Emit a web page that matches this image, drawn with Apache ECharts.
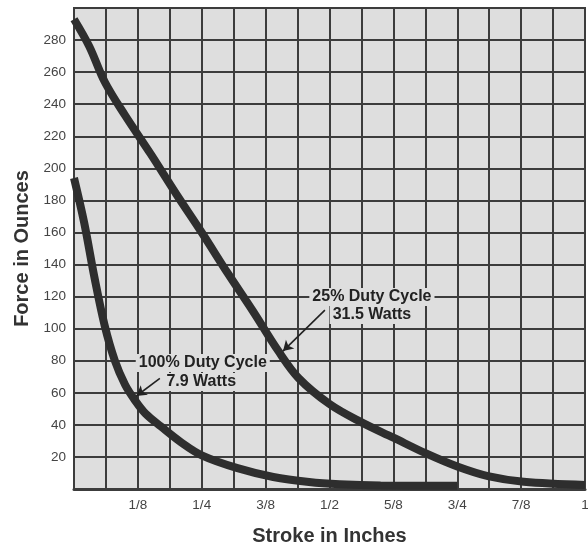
<!DOCTYPE html>
<html><head><meta charset="utf-8">
<script src="https://cdn.jsdelivr.net/npm/echarts@6/dist/echarts.min.js"></script>
<style>html,body{margin:0;padding:0;background:#fff}#c{width:588px;height:546px}</style>
</head><body><div id="c"></div>
<script>
// Stroke (inches) vs force (ounces)
const xTickLabels = ['1/8', '1/4', '3/8', '1/2', '5/8', '3/4', '7/8', '1'];
const dutyName25 = '25% Duty Cycle';
const watts25 = '31.5 Watts';
const dutyName100 = '100% Duty Cycle';
const watts100 = '7.9 Watts';

const stroke25 = [0, 0.03, 0.06, 0.1, 0.15, 0.2, 0.25, 0.3, 0.35, 0.4, 0.44, 0.5, 0.56, 0.625, 0.69, 0.75, 0.81, 0.88, 1.0];
const force25  = [293, 276, 254, 233, 209, 184, 160, 135, 111, 86, 69, 53, 42, 32, 22, 14, 8, 4.5, 2.5];

const stroke100 = [0, 0.02, 0.04, 0.06, 0.08, 0.1, 0.12, 0.14, 0.17, 0.21, 0.25, 0.32, 0.39, 0.46, 0.52, 0.6, 0.75];
const force100  = [194, 166, 132, 102, 80, 65, 55, 47, 39, 29, 21, 13, 7.5, 4.4, 3, 2.2, 2];

// annotation anchors (data coords)
const labelPos = [
  { text: dutyName100, at: [0.252, 78.6] },
  { text: watts100, at: [0.249, 66.7] },
  { text: dutyName25, at: [0.583, 119.7] },
  { text: watts25, at: [0.583, 108.5] }
];
const arrows = [
  [[0.168, 69], [0.122, 58]],
  [[0.491, 111.6], [0.409, 86]]
];

const zip = (xs, ys) => xs.map((x, i) => [x, ys[i]]);
const plotBg = '#dedede';
const gridCol = '#3c3c3c';
const curveCol = '#2e2e2e';
const font = 'Liberation Sans, Arial, Helvetica, sans-serif';

const chart = echarts.init(document.getElementById('c'));
chart.setOption({
  backgroundColor: '#ffffff',
  animation: false,
  grid: { left: 74, right: 3, top: 8, bottom: 57, show: true, backgroundColor: plotBg, borderColor: gridCol, borderWidth: 2, containLabel: false, outerBoundsMode: 'none' },
  xAxis: {
    type: 'value', min: 0, max: 1, interval: 0.0625,
    name: 'Stroke in Inches', nameLocation: 'middle', nameGap: 37,
    nameTextStyle: { fontFamily: font, fontWeight: 'bold', fontSize: 20, color: '#333' },
    axisLine: { show: true, lineStyle: { color: gridCol, width: 3 } },
    axisTick: { show: false },
    splitLine: { show: true, lineStyle: { color: gridCol, width: 2 } },
    axisLabel: {
      margin: 9, color: '#444', fontFamily: font, fontSize: 13.5,
      formatter: v => { const k = Math.round(v * 16); return (k > 0 && k % 2 === 0) ? xTickLabels[k / 2 - 1] : ''; }
    }
  },
  yAxis: {
    type: 'value', min: 0, max: 300, interval: 20,
    name: 'Force in Ounces', nameLocation: 'middle', nameGap: 42,
    nameTextStyle: { fontFamily: font, fontWeight: 'bold', fontSize: 20, color: '#333' },
    axisLine: { show: true, lineStyle: { color: gridCol, width: 2 } },
    axisTick: { show: false },
    splitLine: { show: true, lineStyle: { color: gridCol, width: 2 } },
    axisLabel: {
      margin: 8, color: '#444', fontFamily: font, fontSize: 13.5,
      formatter: v => (v > 0 && v < 300) ? String(v) : ''
    }
  },
  series: [
    {
      name: dutyName25, type: 'line', data: zip(stroke25, force25), smooth: 0.35,
      showSymbol: false, lineStyle: { color: curveCol, width: 8 }, z: 3,
      markLine: {
        silent: true, symbol: ['none', 'arrow'], symbolSize: [9, 10], label: { show: false },
        lineStyle: { color: '#222', width: 1.6, type: 'solid' },
        data: arrows.map(a => [{ coord: a[0] }, { coord: a[1] }])
      }
    },
    {
      name: dutyName100, type: 'line', data: zip(stroke100, force100), smooth: 0.35,
      showSymbol: false, lineStyle: { color: curveCol, width: 8 }, z: 3
    }
  ]
});

function placeLabels() {
  const els = labelPos.map(l => {
    const p = chart.convertToPixel({ gridIndex: 0 }, l.at);
    return {
      type: 'text', x: p[0], y: p[1], z: 1,
      style: {
        text: l.text, fill: '#222', font: 'bold 16px ' + font,
        align: 'center', verticalAlign: 'middle',
        backgroundColor: plotBg, padding: [1, 3]
      }
    };
  });
  chart.setOption({ graphic: els });
}
placeLabels();
</script></body></html>
